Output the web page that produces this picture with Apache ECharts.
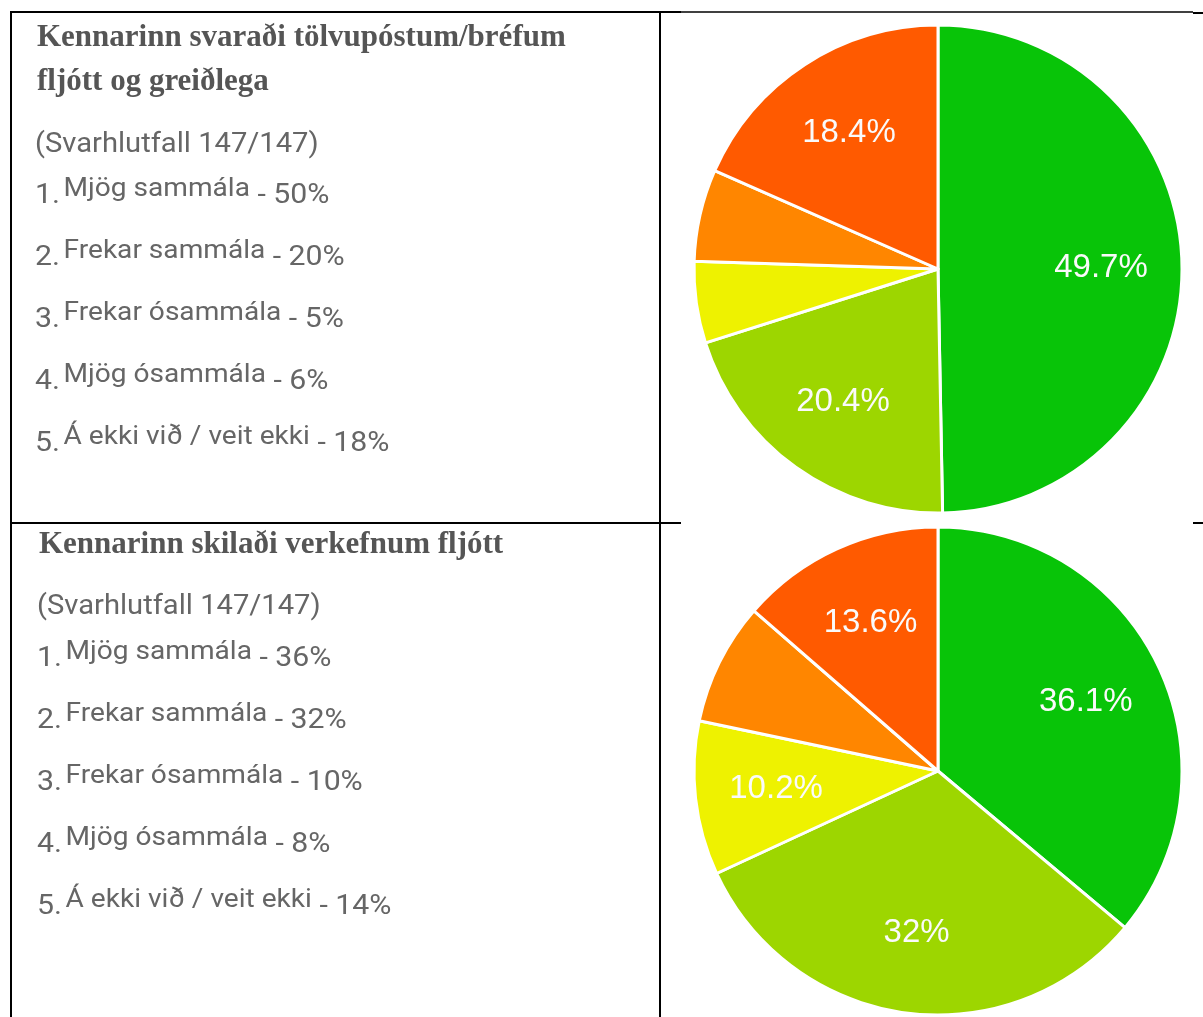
<!DOCTYPE html>
<html style="height: 100%">
	<head>
		<meta charset="utf-8" />
		<title>Kennarinn - svör</title>
		<script src="https://cdn.jsdelivr.net/npm/echarts@6/dist/echarts.min.js"></script>
	</head>
	<body style="height: 100%; margin: 0; background: #fff">
		<div id="container" style="width: 1203px; height: 1017px"></div>
		<script type="text/javascript">
			// answer options, same for both questions
			const answers = ["Mjög sammála", "Frekar sammála", "Frekar ósammála", "Mjög ósammála", "Á ekki við / veit ekki"];
			const sliceColors = ["#08c408", "#9dd600", "#eef200", "#ff8600", "#ff5a00"];

			// question 1
			const q1Title = ["Kennarinn svaraði tölvupóstum/bréfum", "fljótt og greiðlega"];
			const q1Responses = "(Svarhlutfall 147/147)";
			const q1Rounded = [50, 20, 5, 6, 18];
			const q1Slices = [49.7, 20.4, 5.4, 6.1, 18.4];

			// question 2
			const q2Title = ["Kennarinn skilaði verkefnum fljótt"];
			const q2Responses = "(Svarhlutfall 147/147)";
			const q2Rounded = [36, 32, 10, 8, 14];
			const q2Slices = [36.1, 32, 10.2, 8.1, 13.6];

			const grey = "#666";
			const stretch = 1.08; // the screenshot text is a bit wider than plain Roboto

			// text block on the left for one question
			function textBlock(title, responses, rounded, x, titleY, respY, listY) {
				let els = [];
				title.forEach((line, i) => {
					els.push({
						type: "text",
						style: {
							text: line, x: x + 2, y: titleY + i * 44,
							fill: "#555", font: "bold 31px 'Liberation Serif'",
							verticalAlign: "middle",
						},
					});
				});
				els.push({
					type: "text", x: x, y: respY, scaleX: stretch,
					style: {
						text: responses, x: 0, y: 0,
						fill: grey, font: "27px Roboto",
						verticalAlign: "middle",
					},
				});
				answers.forEach((a, i) => {
					els.push({
						type: "text", x: x, y: listY + i * 62, scaleX: stretch,
						style: {
							text: "{n|" + (i + 1) + ".} {t|" + a + "}{n| - " + rounded[i] + "%}",
							x: 0, y: 0,
							verticalAlign: "middle",
							rich: {
								n: {fontSize: 28, fontFamily: "Roboto", fill: grey, lineHeight: 30, verticalAlign: "bottom"},
								t: {fontSize: 26, fontFamily: "Roboto", fill: grey, lineHeight: 30, padding: [0, 0, 11, 0]},
							},
						},
					});
				});
				return els;
			}

			function line(x1, y1, x2, y2, w) {
				return {type: "line", shape: {x1, y1, x2, y2}, style: {stroke: "#000", lineWidth: w}};
			}

			let graphics = [
				line(10, 12, 681, 12, 2),
				line(681, 12, 1193, 12, 1.5),
				line(1193, 13, 1203, 13, 2),
				line(11, 11, 11, 1017, 2),
				line(660, 11, 660, 1017, 2),
				line(10, 523, 681, 523, 2),
				line(1193, 523, 1203, 523, 2),
			];
			graphics = graphics.concat(textBlock(q1Title, q1Responses, q1Rounded, 35, 38, 145, 195));
			graphics = graphics.concat(textBlock(q2Title, q2Responses, q2Rounded, 37, 545, 607, 658));

			function pieSeries(values, center) {
				let data = values.map((v, i) => ({name: answers[i], value: v, itemStyle: {color: sliceColors[i]}}));
				return [
					{
						type: "pie", center: center, radius: 244, startAngle: 90,
						silent: true, label: {show: false}, labelLine: {show: false},
						itemStyle: {borderColor: "#fff", borderWidth: 3},
						data: data,
					},
					// transparent ring only used to place the labels further out
					{
						type: "pie", center: center, radius: [76, 244], startAngle: 90,
						silent: true, labelLine: {show: false},
						itemStyle: {color: "transparent", borderWidth: 0},
						label: {
							show: true, position: "inside",
							formatter: (p) => (p.value >= 10 ? p.value + "%" : ""),
							color: "#fafafa", fontSize: 33, fontFamily: "Liberation Sans",
						},
						data: values.map((v, i) => ({name: answers[i], value: v})),
					},
				];
			}

			let chart = echarts.init(document.getElementById("container"));
			chart.setOption({
				animation: false,
				backgroundColor: "#fff",
				graphic: graphics,
				series: pieSeries(q1Slices, [938, 269]).concat(pieSeries(q2Slices, [938, 771])),
			});
		</script>
	</body>
</html>
